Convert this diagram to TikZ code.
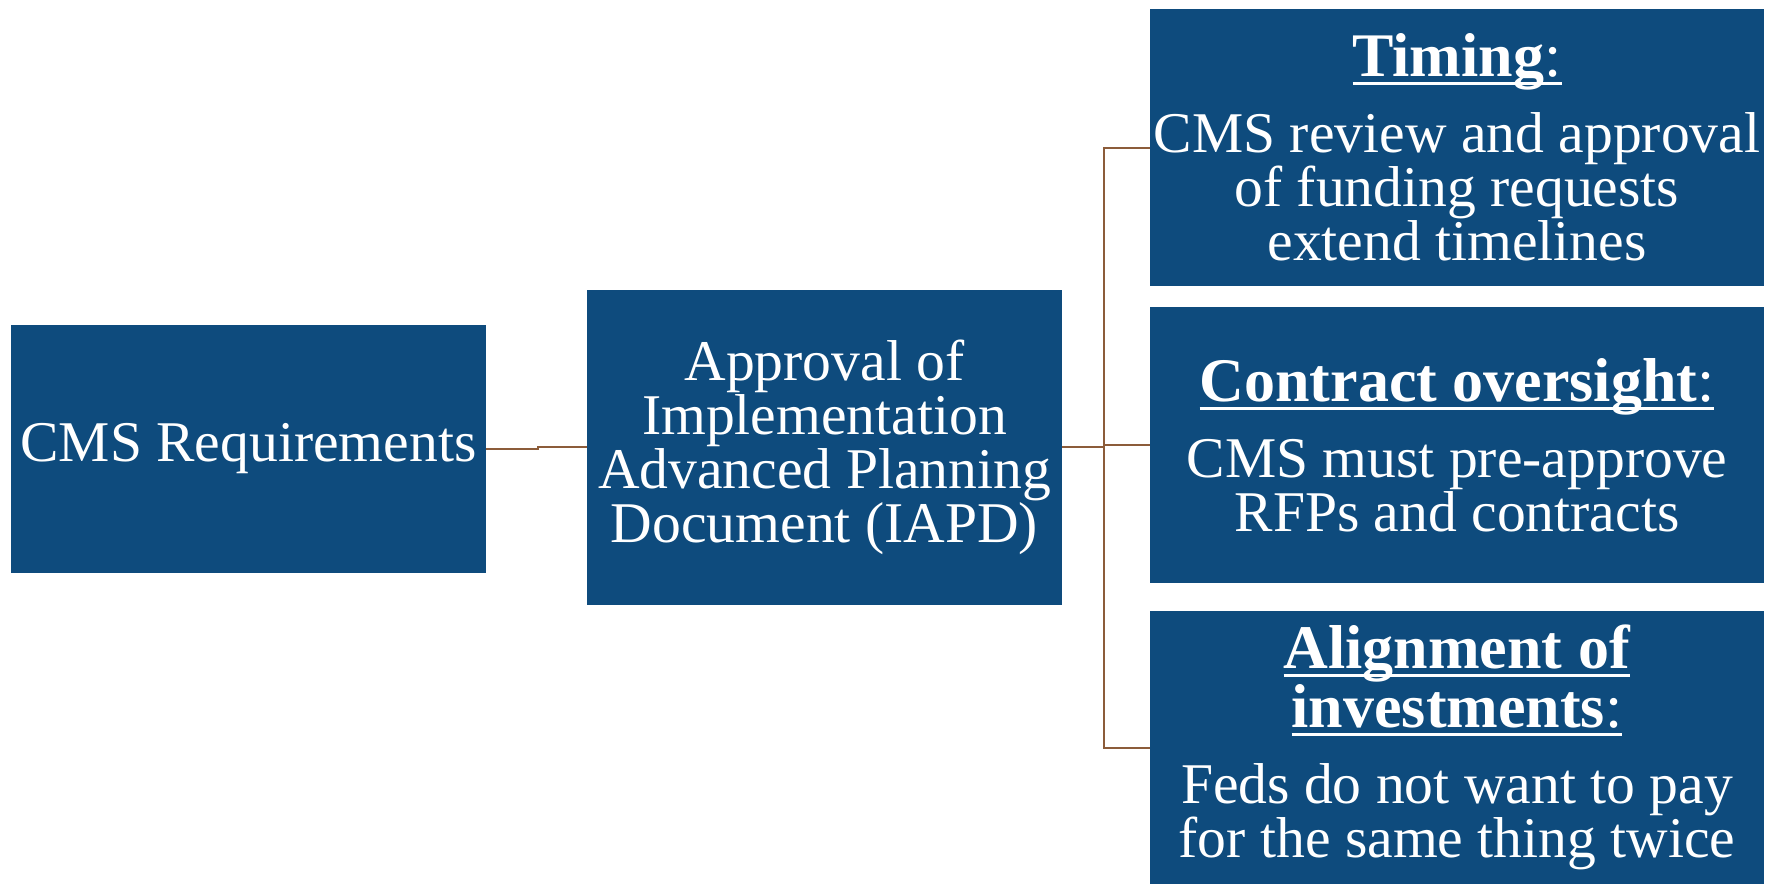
\documentclass[tikz,border=0pt]{standalone}
\usepackage{fontspec}
\setmainfont{Liberation Serif}
\definecolor{boxblue}{RGB}{14,75,125}
\definecolor{linkbrown}{RGB}{140,92,58}
\newcommand{\hdul}[1]{\setbox0=\hbox{#1}\rlap{\rule[-0.14em]{\wd0}{0.05em}}\box0}
\newcommand{\hd}[1]{{\fontsize{31}{27}\selectfont\hdul{#1}}}
\tikzstyle{blk}=[rectangle, fill=boxblue, text=white, inner sep=0pt,
                 align=center, font=\fontsize{28.8}{27}\selectfont]
\tikzstyle{lnk}=[draw=linkbrown, line width=1pt]

\begin{document}
\begin{tikzpicture}[x=0.5pt,y=-0.5pt]
\path[use as bounding box] (0,0) rectangle (1775,884);
\node[blk, minimum width=237.5pt, minimum height=124pt] (req) at (248.5,449) {CMS Requirements};
\node[blk, minimum width=237.5pt, minimum height=157.5pt] (iapd) at (824.5,447)
  {Approval of\\Implementation\\Advanced Planning\\Document (IAPD)};
\node[blk, minimum width=307pt, minimum height=138.5pt] (tim) at (1457,147.5)
  {\hd{\textbf{Timing}:}\\[11pt]CMS review and approval\\of funding requests\\extend timelines};
\node[blk, minimum width=307pt, minimum height=138pt] (con) at (1457,445)
  {\hd{\textbf{Contract oversight}:}\\[11pt]CMS must pre-approve\\RFPs and contracts};
\node[blk, minimum width=307pt, minimum height=136.5pt] (ali) at (1457,747.5)
  {\hd{\textbf{Alignment of}}\\\hd{\textbf{investments}:}\\[11pt]Feds do not want to pay\\for the same thing twice};
\coordinate (bus) at (1104,447);
\path[lnk] (req.east) -- ++(52,0) |- (iapd.west);
\path[lnk] (iapd.east) -- (bus) |- (tim.west)
  (bus) |- (con.west)
  (bus) |- (ali.west);
\end{tikzpicture}
\end{document}
